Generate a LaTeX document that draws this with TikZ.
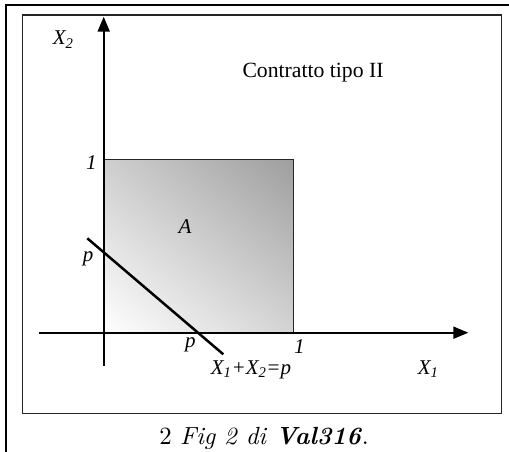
\documentclass[tikz,border=0pt]{standalone}
\usepackage{fontspec}
\newfontfamily\tnr{Liberation Serif}
\usetikzlibrary{arrows.meta,shadings}
\begin{document}
\begin{tikzpicture}[x=1pt,y=-1pt,
  lbl/.style={inner sep=0pt, anchor=base west, font=\tnr\fontsize{21}{24}\selectfont\itshape},
  axisline/.style={line width=2pt, -{Triangle[length=15pt,width=12pt]}},
  frameline/.style={line width=1.5pt, black!85}]
\useasboundingbox (0,0) rectangle (509,452);
% outer page frame
\draw[line width=2pt] (6,452) -- (6,5) -- (509,5);
% inner frame
\draw[frameline] (22.7,15) rectangle (501.5,413.3);
% key points
\coordinate (O) at (103.7,332.7);
\coordinate (S) at (293.7,159.7);
\coordinate (Y1) at (103.7,159.7);
\coordinate (X1) at (293.7,332.7);
\coordinate (ystart) at (103.7,366);
\coordinate (yend) at (103.7,16.7);
\coordinate (xstart) at (39.3,332.7);
\coordinate (xend) at (468.3,332.7);
\coordinate (la) at (87.3,238.3);
\coordinate (lb) at (223.3,354.3);
% shaded square
\shade[lower left=white, upper right=black!38, upper left=black!19, lower right=black!17] (O) rectangle (S);
\draw[line width=1pt, black!85] (Y1) -- (S) -- (X1);
% axes
\draw[axisline] (ystart) -- (yend);
\draw[axisline] (xstart) -- (xend);
% line X1+X2=p
\draw[line width=2.5pt] (la) -- (lb);
% labels
\node[lbl] (lx2) at (52.7,45) {X\textsubscript{2}};
\node[inner sep=0pt, anchor=base west, font=\tnr\fontsize{21.7}{24}\selectfont] (title) at (242.3,77.3) {Contratto tipo II};
\node[lbl] (one2) at (86,169.3) {1};
\node[lbl] (lA) at (178.3,233.3) {A};
\node[lbl] (p2) at (82.7,261.5) {p};
\node[lbl] (p1) at (185,347) {p};
\node[lbl] (one1) at (294,353.3) {1};
\node[lbl] (eq) at (210.7,374.3) {X\textsubscript{1}+X\textsubscript{2}=p};
\node[lbl] (lx1) at (417.7,374.3) {X\textsubscript{1}};
% caption
\node[inner sep=0pt, anchor=base west, font=\fontsize{10}{12}\selectfont, scale=2.48, transform shape] (cap) at (159,444.3) {2 \textit{Fig 2 di} \textbf{\textit{Val316}}.};
\end{tikzpicture}
\end{document}
